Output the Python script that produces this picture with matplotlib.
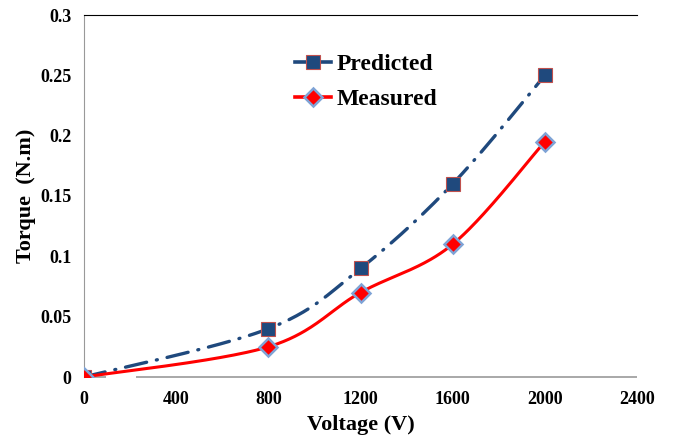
import matplotlib.pyplot as plt
import numpy as np

voltage   = [0, 800, 1200, 1600, 2000]
predicted = [0, 0.04, 0.09, 0.16, 0.25]
measured  = [0, 0.025, 0.07, 0.11, 0.195]

x_ticks = [0, 400, 800, 1200, 1600, 2000, 2400]
y_ticks = [0, 0.05, 0.1, 0.15, 0.2, 0.25, 0.3]
y_tick_labels = ["0", "0.05", "0.1", "0.15", "0.2", "0.25", "0.3"]

plt.rcParams['font.family'] = ['Liberation Serif', 'DejaVu Serif']
plt.rcParams['font.weight'] = 'bold'


def smooth(xs, ys, sx, sy, n=60):
    # spreadsheet-style smoothed line: cubic bezier with catmull-rom handles,
    # worked out in screen-proportional units so the bends look right
    p = np.column_stack([np.asarray(xs, float) * sx, np.asarray(ys, float) * sy])
    pts = np.vstack([p[0], p, p[-1]])
    t = np.linspace(0, 1, n)[:, None]
    out = []
    for i in range(1, len(pts) - 2):
        p0, p1, p2, p3 = pts[i - 1], pts[i], pts[i + 1], pts[i + 2]
        c1 = p1 + (p2 - p0) / 6
        c2 = p2 - (p3 - p1) / 6
        seg = ((1 - t) ** 3) * p1 + 3 * ((1 - t) ** 2) * t * c1 + 3 * (1 - t) * t ** 2 * c2 + t ** 3 * p2
        out.append(seg)
    out = np.vstack(out)
    return out[:, 0] / sx, out[:, 1] / sy


fig = plt.figure(figsize=(6.73, 4.38), dpi=100)
ax = fig.add_axes([84 / 673, 1 - 377 / 438, (637 - 84) / 673, (377 - 15) / 438])

# axis scale in pixels per data unit
sx = 553 / 2400
sy = 362 / 0.3

px, py = smooth(voltage, predicted, sx, sy)
mx, my = smooth(voltage, measured, sx, sy)

ax.plot(px, py, color='#1F497D', lw=2.4, dashes=(6.5, 3, 0.3, 3),
        dash_capstyle='round', zorder=3)
ax.plot(mx, my, color='#FF0000', lw=2.2, zorder=3)

ax.plot(voltage, predicted, ls='none', marker='s', ms=10, mfc='#1F497D',
        mec='#C0504D', mew=0.8, zorder=4)
ax.plot(voltage, measured, ls='none', marker='D', ms=9.5, mfc='#FF0000',
        mec='#7FA3D6', mew=1.8, zorder=5)

# legend proxies
h1, = ax.plot([], [], color='#1F497D', lw=2.6, marker='s', ms=10,
              mfc='#1F497D', mec='#C0504D', mew=0.8)
h2, = ax.plot([], [], color='#FF0000', lw=2.6, marker='D', ms=9.5,
              mfc='#FF0000', mec='#7FA3D6', mew=1.8)
ax.legend([h1, h2], ["Predicted", "Measured"], loc='upper left',
          bbox_to_anchor=(274 / 673, 1 - 32 / 438), bbox_transform=fig.transFigure,
          frameon=False, handlelength=1.5, handletextpad=0.25,
          labelspacing=0.58, prop={'weight': 'bold', 'size': 17})

ax.set_xlim(0, 2400)
ax.set_ylim(0, 0.3)
ax.set_xticks(x_ticks)
ax.set_yticks(y_ticks)
ax.set_yticklabels(y_tick_labels)
ax.tick_params(length=0, labelsize=13)
ax.tick_params(axis='y', pad=9)
ax.tick_params(axis='x', pad=10)
for lab in ax.get_xticklabels() + ax.get_yticklabels():
    lab.set_fontweight('bold')

ax.spines['right'].set_visible(False)
ax.spines['top'].set_color('black')
ax.spines['left'].set_color('#999999')
ax.spines['bottom'].set_visible(False)
# the baseline has a short break just right of the origin
ax.hlines(0, 0, 95, color='#999999', lw=1.2, zorder=2, clip_on=False)
ax.hlines(0, 226, 2400, color='#999999', lw=1.2, zorder=2, clip_on=False)

ax.set_xlabel("Voltage (V)", fontsize=16, fontweight='bold')
ax.set_ylabel("Torque  (N.m)", fontsize=16, fontweight='bold')
ax.xaxis.set_label_coords(0.5, -(425 - 377) / 362, transform=ax.transAxes)
ax.yaxis.set_label_coords(-(84 - 26) / 553, 0.5)
ax.xaxis.label.set_va('center')
ax.yaxis.label.set_va('center')

fig.savefig("out.png", dpi=100)
